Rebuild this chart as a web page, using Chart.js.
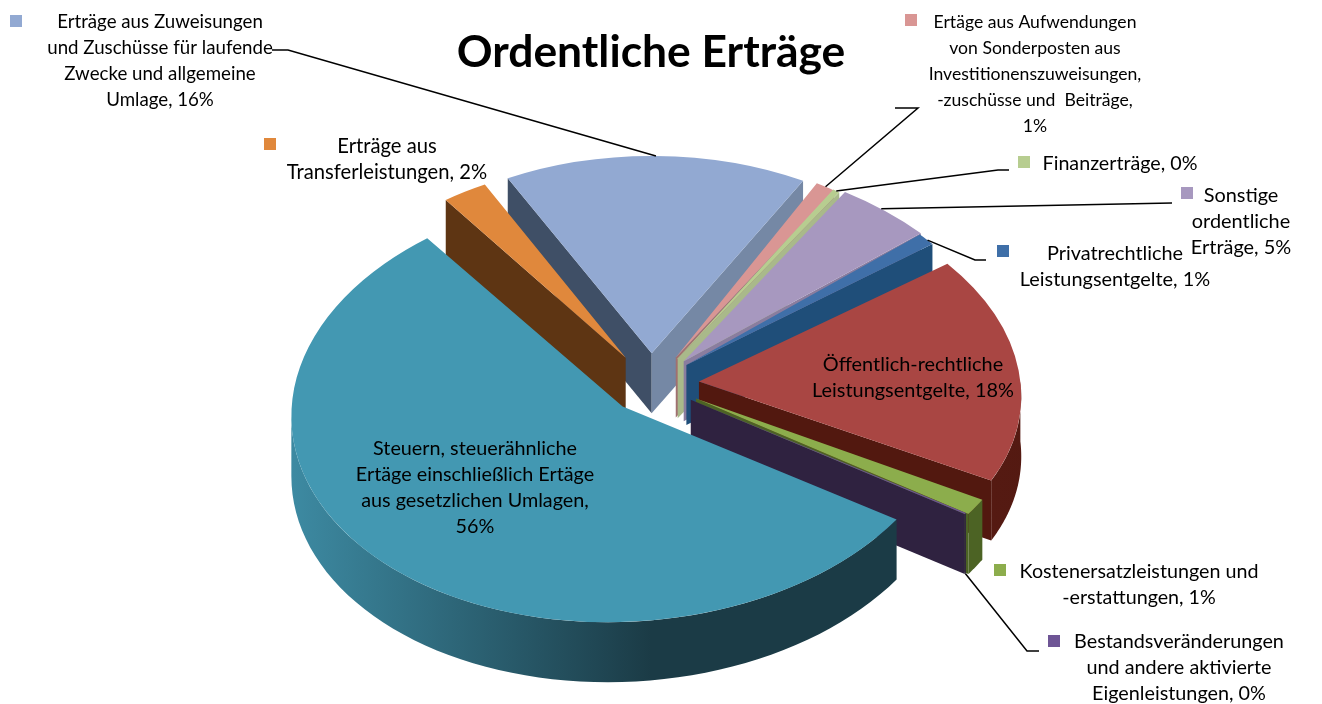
<!DOCTYPE html>
<html lang="de">
<head>
<meta charset="utf-8">
<title>Ordentliche Erträge</title>
<script src="https://cdn.jsdelivr.net/npm/chart.js@4"></script>
<style>
  html, body { margin: 0; padding: 0; background: #fff; }
  canvas { display: block; }
</style>
</head>
<body>
<canvas id="chart" width="1322" height="704"></canvas>
<script>
// slices run clockwise, starting at the back of the pie
const categories = [
  'Erträge aus Zuweisungen und Zuschüsse für laufende Zwecke und allgemeine Umlage',
  'Ertäge aus Aufwendungen von Sonderposten aus Investitionenszuweisungen, -zuschüsse und Beiträge',
  'Finanzerträge',
  'Sonstige ordentliche Erträge',
  'Privatrechtliche Leistungsentgelte',
  'Öffentlich-rechtliche Leistungsentgelte',
  'Kostenersatzleistungen und -erstattungen',
  'Bestandsveränderungen und andere aktivierte Eigenleistungen',
  'Steuern, steuerähnliche Ertäge einschließlich Ertäge aus gesetzlichen Umlagen',
  'Erträge aus Transferleistungen'
];
const shares = [15.7, 1.1, 0.4, 4.7, 0.9, 17.9, 1.3, 0.1, 55.4, 2.4];
const labelLines = [
  ['Erträge aus Zuweisungen', 'und Zuschüsse für laufende', 'Zwecke und allgemeine', 'Umlage, 16%'],
  ['Ertäge aus Aufwendungen', 'von Sonderposten aus', 'Investitionenszuweisungen,', '-zuschüsse und  Beiträge,', '1%'],
  ['Finanzerträge, 0%'],
  ['Sonstige', 'ordentliche', 'Erträge, 5%'],
  ['Privatrechtliche', 'Leistungsentgelte, 1%'],
  ['Öffentlich-rechtliche', 'Leistungsentgelte, 18%'],
  ['Kostenersatzleistungen und', '-erstattungen, 1%'],
  ['Bestandsveränderungen', 'und andere aktivierte', 'Eigenleistungen, 0%'],
  ['Steuern, steuerähnliche', 'Ertäge einschließlich Ertäge', 'aus gesetzlichen Umlagen,', '56%'],
  ['Erträge aus', 'Transferleistungen, 2%']
];

// colours: top face, start face, end face, rim wall left, rim wall right
const topColors = ['#92a9d2', '#d99694', '#b7cd90', '#a798bf', '#3f6fa8', '#a94643', '#8cad4c', '#6e5595', '#4398b2', '#e0883c'];
const startFace = ['#3f4f66', '#a07070', '#a9b98a', '#8a7d9f', '#1f4e79', '#52180f', '#4c6324', '#2f2240', '#1c3e4a', '#5e3513'];
const endFace   = ['#7588a5', '#a07070', '#a9b98a', '#8a7d9f', '#1f4e79', '#52180f', '#4c6324', '#2f2240', '#1c3e4a', '#5e3513'];
const rimLeft   = ['#5f7090', '#a07070', '#8a9a6c', '#7a6e90', '#1f4e79', '#551a12', '#4c6324', '#2f2240', '#3d8aa2', '#5e3513'];
const rimRight  = ['#5f7090', '#a07070', '#8a9a6c', '#7a6e90', '#1f4e79', '#4a150e', '#4c6324', '#2f2240', '#1b3b46', '#5e3513'];

// label layout: centre x, y of first line, marker x/y (null = no marker), font px
const labelPos = [
  [160, 22, 16, 21, 18.7], [1035, 22, 911, 20, 17.6], [1120, 164, 1024, 162, 19.7], [1241, 196, 1187, 193, 19.9],
  [1115, 254, 1003, 251, 19.9], [913, 365, null, null, 19.9], [1139, 572, 1000, 570, 19.7], [1179, 642, 1054, 641, 19.8],
  [475, 449, null, null, 19.8], [387, 146, 270, 144, 20.2]
];
// leader lines: slice index, position along its rim (0..1), elbow points out to the label
const leaders = [
  [0, 0.5, [[288, 50], [272, 50]]],
  [1, 0.5, [[918, 108], [895, 108]]],
  [2, 0.5, [[998, 170], [1009, 170]]],
  [3, 0.45, [[1172, 203]]],
  [4, 0.6, [[975, 260], [986, 260]]],
  [7, 0.5, [[1027, 651], [1039, 651]]]
];

// the original has real perspective, so each slice gets a small affine tweak:
// [x scale, x shear, y shear, y scale, dx, dy]
const warp = [
  [0.95, 0, 0, 0.97, 0, 0],
  [0.885, 0, 0, 0.98, 0, 0],
  [0.87, 0, 0, 0.99, 0, 0],
  [0.993, 0.138, 0, 1.01, 0, 0],
  [0.99, 0.16, 0, 1.03, -3, 0],
  [0.98, 0.117, 0, 1, 0, 0],
  [1, 0, 0, 1.02, 4, 0],
  [1.01, 0, 0, 1, 0, 0],
  [1.01, 0, -0.03, 1.06, 5, 2],
  [0.93, 0, 0, 0.96, 0, 0]
];

const squash = 0.62;     // vertical flattening of the tilted pie
const depth = 60;        // wall height in px
const explode = 48;      // how far each slice is pulled out
const pieCentreY = 383;
const lineHeight = 26;

// screen position of a slice: apex plus a function giving the rim point for an angle
const placed = (el, i) => {
  const mid = (el.startAngle + el.endAngle) / 2;
  const [kx, sx, sy, ky, dx, dy] = warp[i];
  const cx = el.x + Math.cos(mid) * explode + dx;
  const cy = pieCentreY + Math.sin(mid) * explode * squash + dy;
  const R = el.outerRadius;
  const rim = a => {
    const u = R * Math.cos(a), v = R * squash * Math.sin(a);
    return [cx + kx * u + sx * v, cy + sy * u + ky * v];
  };
  return { cx, cy, rim };
};

const pie3d = {
  id: 'pie3d',
  beforeDatasetsDraw(chart) {
    const ctx = chart.ctx;
    const arcs = chart.getDatasetMeta(0).data;
    const order = arcs.map((el, i) => i).sort((a, b) =>
      Math.sin((arcs[a].startAngle + arcs[a].endAngle) / 2) - Math.sin((arcs[b].startAngle + arcs[b].endAngle) / 2));

    order.forEach(i => {
      const el = arcs[i];
      const { cx, cy, rim } = placed(el, i);
      const [kx, sx, sy, ky] = warp[i];
      const a0 = el.startAngle, a1 = el.endAngle;
      const face = (a, color) => {
        const p = rim(a);
        ctx.fillStyle = color;
        ctx.beginPath();
        ctx.moveTo(cx, cy);
        ctx.lineTo(p[0], p[1]);
        ctx.lineTo(p[0], p[1] + depth);
        ctx.lineTo(cx, cy + depth);
        ctx.closePath();
        ctx.fill();
      };
      if (Math.cos(a0) < 0) face(a0, startFace[i]);
      if (Math.cos(a1) > 0) face(a1, endFace[i]);

      // outer wall, only the part facing the viewer
      const from = Math.max(a0, 0), to = Math.min(a1, Math.PI);
      if (to > from) {
        const grad = ctx.createLinearGradient(rim(to)[0], 0, rim(to)[0] + 360, 0);
        grad.addColorStop(0, rimLeft[i]);
        grad.addColorStop(1, rimRight[i]);
        ctx.fillStyle = grad;
        ctx.beginPath();
        const steps = 60;
        for (let s = 0; s <= steps; s++) {
          const p = rim(from + (to - from) * s / steps);
          ctx.lineTo(p[0], p[1]);
        }
        for (let s = steps; s >= 0; s--) {
          const p = rim(from + (to - from) * s / steps);
          ctx.lineTo(p[0], p[1] + depth);
        }
        ctx.closePath();
        ctx.fill();
      }

      // top face is the library's own arc element, flattened
      ctx.save();
      ctx.translate(cx, cy);
      ctx.transform(kx, sy, sx * squash, ky * squash, 0, 0);
      ctx.translate(-el.x, -el.y);
      el.draw(ctx);
      ctx.restore();
    });
    return false;
  },
  afterDraw(chart) {
    const ctx = chart.ctx;
    const arcs = chart.getDatasetMeta(0).data;

    ctx.strokeStyle = '#000';
    ctx.lineWidth = 1.5;
    leaders.forEach(([i, t, points]) => {
      const el = arcs[i];
      const { rim } = placed(el, i);
      const a = el.startAngle + (el.endAngle - el.startAngle) * t;
      const p = rim(a);
      ctx.beginPath();
      ctx.moveTo(p[0], p[1] + (Math.sin(a) > 0 ? depth : 0));
      points.forEach(q => ctx.lineTo(q[0], q[1]));
      ctx.stroke();
    });

    ctx.textAlign = 'center';
    ctx.textBaseline = 'middle';
    labelLines.forEach((lines, i) => {
      const [x, y, mx, my, size] = labelPos[i];
      if (mx !== null) {
        ctx.fillStyle = topColors[i];
        ctx.fillRect(mx - 6, my - 6, 12, 12);
      }
      ctx.font = size + 'px Lato';
      ctx.fillStyle = '#000';
      lines.forEach((line, k) => ctx.fillText(line, x, y + k * lineHeight));
    });
  }
};

new Chart(document.getElementById('chart'), {
  type: 'pie',
  data: {
    labels: categories,
    datasets: [{ data: shares, backgroundColor: topColors, borderWidth: 0 }]
  },
  options: {
    responsive: false,
    animation: false,
    rotation: -27.5,
    radius: 328,
    layout: { padding: { right: 20 } },
    plugins: {
      legend: { display: false },
      tooltip: { enabled: false },
      title: {
        display: true,
        text: 'Ordentliche Erträge',
        color: '#000',
        font: { family: 'Lato', size: 44.4, weight: 'bold' },
        padding: { top: 26, bottom: 0 }
      }
    }
  },
  plugins: [pie3d]
});
</script>
</body>
</html>
